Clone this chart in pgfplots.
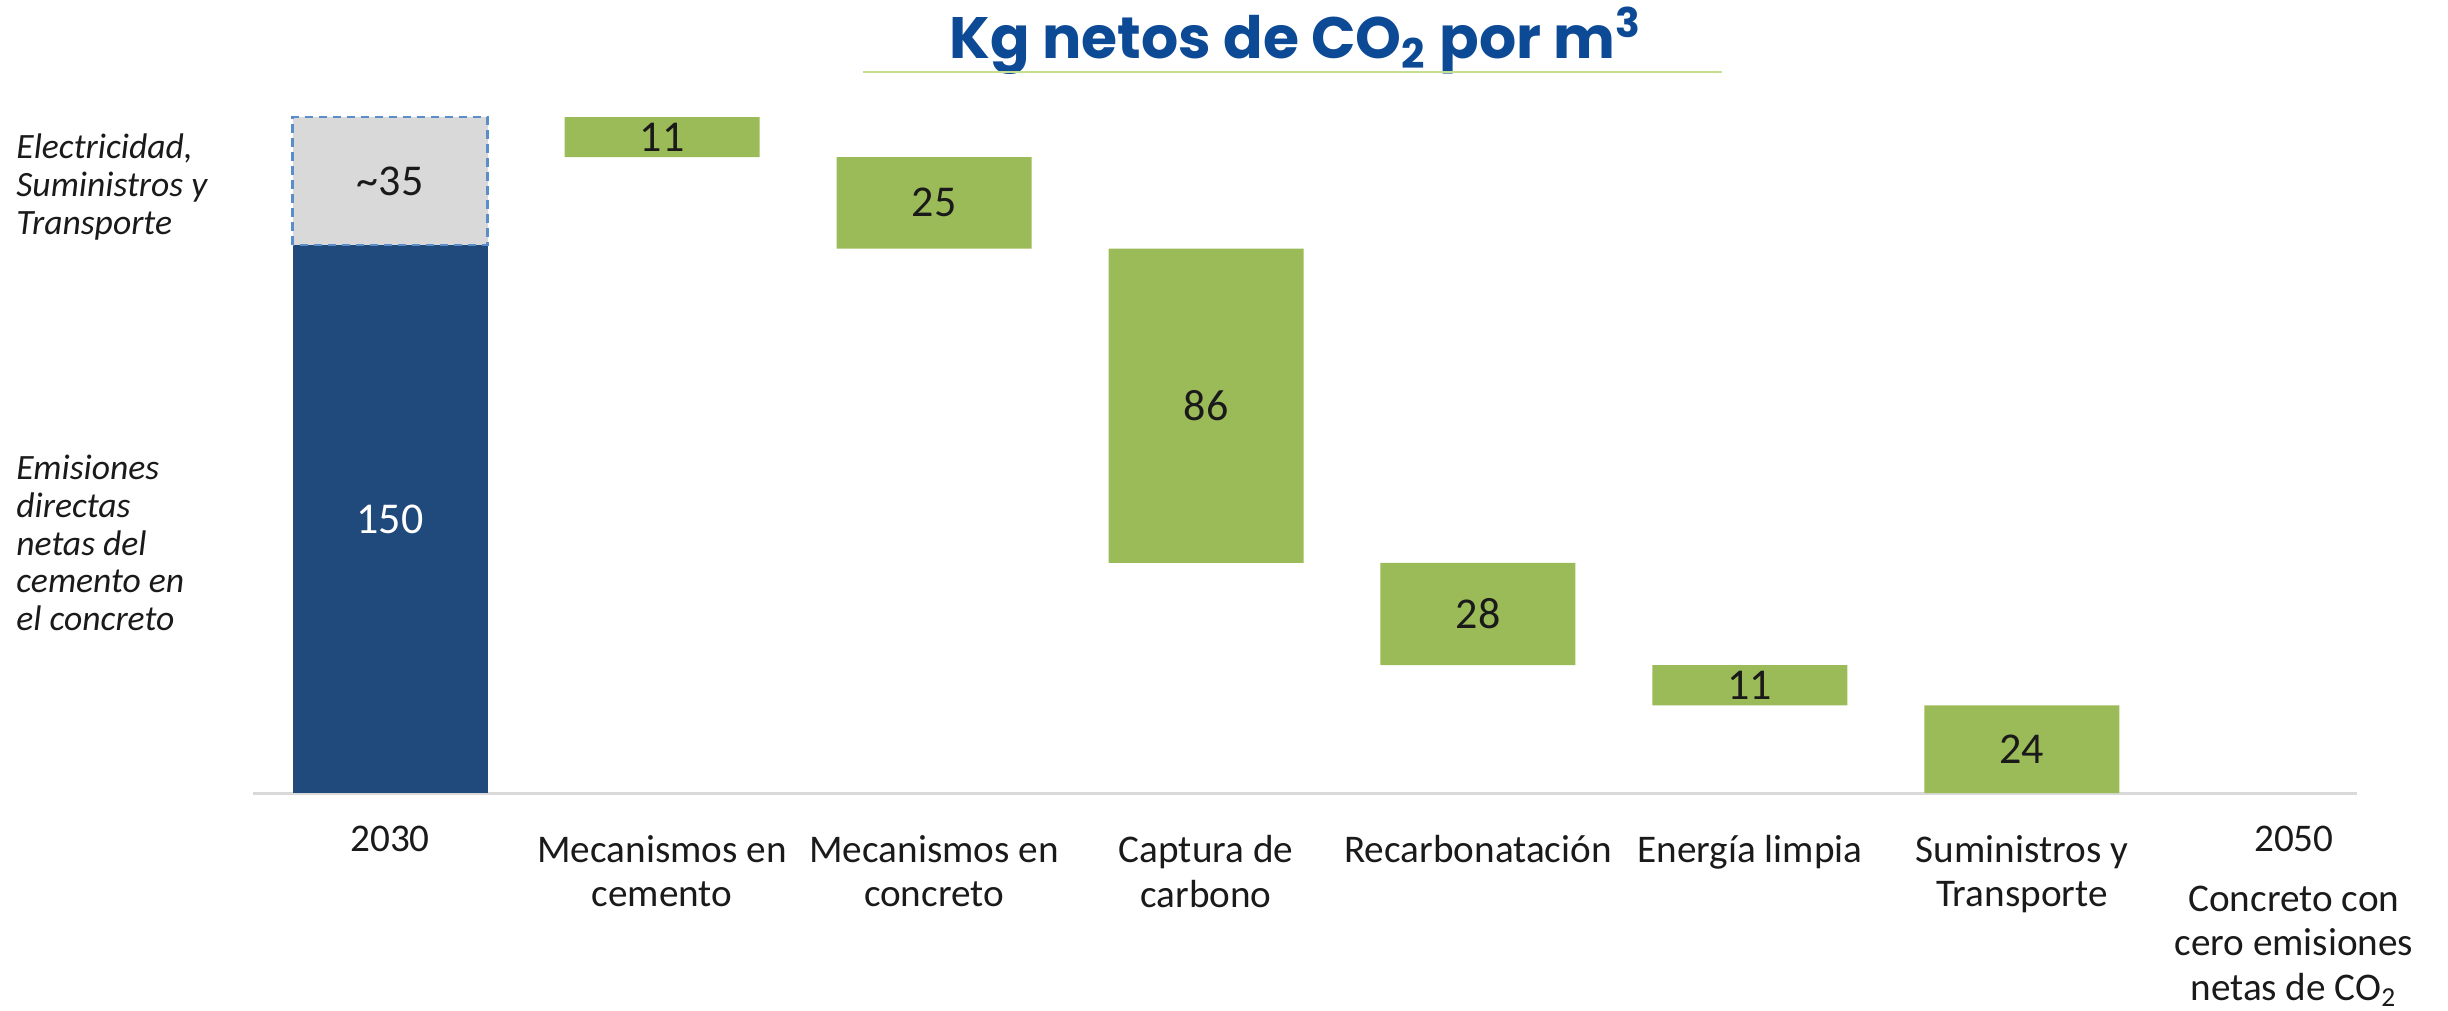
\documentclass[border=0pt]{standalone}
\usepackage{fontspec}
\setmainfont{Carlito}
\newfontfamily\titlefont{Poppins}
\usepackage{pgfplots}
\usepackage{pgfplotstable}
\pgfplotsset{compat=1.18}

\definecolor{azulbarra}{HTML}{20497C}
\definecolor{verdebarra}{HTML}{9BBB59}
\definecolor{grisbarra}{HTML}{D9D9D9}
\definecolor{bordegris}{HTML}{5B8DCB}
\definecolor{azultitulo}{HTML}{0D4A96}
\definecolor{verdetitulo}{HTML}{C5DE8F}
\definecolor{ejegris}{HTML}{D9D9D9}
\definecolor{texto}{HTML}{1A1A1A}

\pgfplotstableread{
x base directas gris reduccion
0 0   150 35 0
1 174 0   0  11
2 149 0   0  25
3 63  0   0  86
4 35  0   0  28
5 24  0   0  11
6 0   0   0  24
7 0   0   0  0
}\datos

\tikzset{
    etiq/.style={font=\fontsize{11}{13}\selectfont, text=texto},
    lateral/.style={anchor=west, align=left, text=texto, inner sep=0pt,
        font=\itshape\fontsize{8.9}{9.4}\selectfont},
}

\pgfplotsset{marco/.style={
    at={(63.25pt,54.25pt)}, anchor=south west,
    scale only axis,
    width=526pt, height=169pt,
    xmin=-0.504, xmax=7.232,
    ymin=0, ymax=185,
    clip=false,
}}

\begin{document}
\begin{tikzpicture}
\path[use as bounding box] (0,0) rectangle (612pt,252.5pt);
\begin{axis}[
    marco,
    ybar stacked,
    bar width=0.717,
    axis x line*=bottom,
    axis y line=none,
    x axis line style={ejegris, line width=0.75pt},
    xtick={0,1,2,3,4,5,6,7},
    major tick length=0pt,
    xticklabels={{\rule{0pt}{4pt}\smash{2030}},{Mecanismos en\\cemento},{Mecanismos en\\concreto},{Captura de\\carbono},Recarbonatación,Energía limpia,{Suministros y\\Transporte},{\rule{0pt}{4pt}\smash{2050}\\\rule{0pt}{14pt}Concreto con\\cero emisiones\\netas de CO\textsubscript{2}}},
    xticklabel style={align=center, anchor=north, text=texto,
        font=\fontsize{9.8}{11.2}\selectfont, yshift=-7pt},
]
\addplot[draw=none, fill=white, fill opacity=0] table[x=x, y=base] {\datos};
\addplot[draw=none, fill=azulbarra] table[x=x, y=directas] {\datos};
\addplot[draw=none, fill=grisbarra] table[x=x, y=gris] {\datos};
\addplot[draw=none, fill=verdebarra] table[x=x, y=reduccion] {\datos};
\end{axis}

% borde punteado de la barra gris, etiquetas y titulo
\begin{axis}[marco, hide axis]
\addplot[sharp plot, mark=none, draw=bordegris, line width=0.6pt,
    dash pattern=on 2.2pt off 1.3pt]
    coordinates {(-0.3585,150) (-0.3585,185) (0.3585,185) (0.3585,150) (-0.3585,150)};
\node[etiq, text=white] at (axis cs:0,75) {150};
\node[etiq] at (axis cs:0,167.5) {{\char"007E}35};
\node[etiq] at (axis cs:1,179.5) {11};
\node[etiq] at (axis cs:2,161.5) {25};
\node[etiq] at (axis cs:3,106) {86};
\node[etiq] at (axis cs:4,49) {28};
\node[etiq] at (axis cs:5,29.5) {11};
\node[etiq] at (axis cs:6,12) {24};
\node[font=\titlefont\bfseries\fontsize{14.6}{17}\selectfont, text=azultitulo]
    at (rel axis cs:0.4957,1.113) {Kg netos de CO\textsubscript{2} por m\textsuperscript{3}};
\draw[verdetitulo, line width=0.5pt]
    (rel axis cs:0.2899,1.0666) -- (rel axis cs:0.6982,1.0666);
\end{axis}

\node[lateral] at (3.9pt,205.75pt) {Electricidad,\\Suministros y\\Transporte};
\node[lateral] at (3.9pt,116.75pt) {Emisiones\\directas\\netas del\\cemento en\\el concreto};
\end{tikzpicture}
\end{document}
